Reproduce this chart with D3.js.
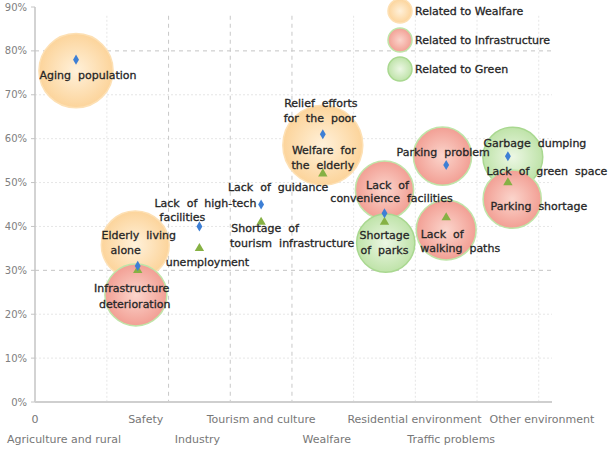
<!DOCTYPE html>
<html>
<head>
<meta charset="utf-8">
<script src="https://cdn.jsdelivr.net/npm/d3@7"></script>
<style>
  body { margin: 0; background: #fff; }
  text { font-family: 'DejaVu Sans', sans-serif; }
</style>
</head>
<body>
<div id="chart"></div>
<script>
// categories along the x axis (position 1..8)
const categories = ['Agriculture and rural', 'Safety', 'Industry', 'Tourism and culture',
  'Wealfare', 'Residential environment', 'Traffic problems', 'Other environment'];
const yTicks = [0, 10, 20, 30, 40, 50, 60, 70, 80, 90];

// blue diamonds and green triangles (percent)
const diamondValues = [78, 31, 40, 45, 61, 43, 54, 56];
const triangleValues = [null, 30, 35, 41, 52, 41, 42, 50];

// background bubbles
const bubbleX = [1, 1.96, 1.97, 5, 6, 6.02, 6.94, 7, 8.08, 8.07];
const bubbleY = [75.5, 35.8, 24.4, 58.5, 48.3, 36.2, 56, 39.2, 55.8, 46.2];
const bubbleSize = [86, 72, 60, 100, 53, 53, 53, 56, 56, 53];
const bubbleGroup = ['welfare', 'welfare', 'infra', 'welfare', 'infra', 'green',
  'infra', 'infra', 'green', 'infra'];

const groups = ['welfare', 'infra', 'green'];
const groupNames = ['Related to Wealfare', 'Related to Infrastructure', 'Related to Green'];

// label lines: [text, series, category index, dx, dy]
const labels = [
  ['Aging  population', 'd', 0, 12, 15],
  ['Elderly  living', 'd', 1, 1, -31],
  ['alone', 'd', 1, -12, -16],
  ['Infrastructure', 't', 1, -6, 18],
  ['deterioration', 't', 1, -3, 34],
  ['Lack  of  high-tech', 'd', 2, 6, -23],
  ['facilities', 'd', 2, -17, -9],
  ['unemployment', 't', 2, 8, 14],
  ['Lack  of  guidance', 'd', 3, 17, -17],
  ['Shortage  of', 't', 3, 4, 6],
  ['tourism  infrastructure', 't', 3, 31, 21],
  ['Relief  efforts', 'd', 4, -2, -31],
  ['for  the  poor', 'd', 4, -3, -16],
  ['Welfare  for', 't', 4, 1, -24],
  ['the  elderly', 't', 4, 0, -9],
  ['Lack  of', 'd', 5, 3, -28],
  ['convenience  facilities', 'd', 5, 7, -15],
  ['Shortage', 't', 5, 0, 13],
  ['of  parks', 't', 5, 0, 28],
  ['Parking  problem', 'd', 6, -3, -13],
  ['Lack  of', 't', 6, -4, 16],
  ['walking  paths', 't', 6, 14, 30],
  ['Garbage  dumping', 'd', 7, 27, -13],
  ['Lack  of  green  space', 't', 7, 39, -11],
  ['Parking  shortage', 't', 7, 31, 24],
];

// x-axis label shifts (px)
const catShift = [-12, 8, -2, 0, 4, 30, 5, 34];

const width = 610;
const height = 449;
const plot = { left: 35, right: 552, top: 7, bottom: 402 };

const svg = d3.select('#chart').append('svg')
  .attr('width', width)
  .attr('height', height);

const x = d3.scaleLinear().domain([0.335, 8.715]).range([plot.left, plot.right]);
const y = d3.scaleLinear().domain([0, 90]).range([plot.bottom, plot.top]);
const r = d3.scaleSqrt().domain([0, 100]).range([0, 40]);

const fills = {
  welfare: ['#fff1da', '#fcd49b'],
  infra: ['#fbd5cc', '#f29f94'],
  green: ['#ecf7e4', '#bfe3a9'],
};
const strokes = { welfare: '#fde0b4', infra: '#bfe5a8', green: '#a9d890' };

const defs = svg.append('defs');
groups.forEach((k) => {
  const grad = defs.append('radialGradient').attr('id', `grad-${k}`);
  grad.append('stop').attr('offset', '0%').attr('stop-color', fills[k][0]);
  grad.append('stop').attr('offset', '100%').attr('stop-color', fills[k][1]);
});

// grid
const grid = svg.append('g');
const vLines = d3.range(1.5, 9, 1);
grid.selectAll('.hgrid')
  .data(yTicks.filter(t => t > 0 && t < 90))
  .enter().append('line')
  .attr('x1', plot.left).attr('x2', plot.right)
  .attr('y1', d => y(d)).attr('y2', d => y(d))
  .attr('stroke', d => (d === 30 || d === 80) ? '#c4c4c4' : '#e6e6e6')
  .attr('stroke-dasharray', d => (d === 30 || d === 80) ? '4,4' : '2,2');
grid.selectAll('.vgrid')
  .data(vLines)
  .enter().append('line')
  .attr('x1', d => x(d)).attr('x2', d => x(d))
  .attr('y1', y(88)).attr('y2', plot.bottom)
  .attr('stroke', d => (d >= 2.5 && d <= 4.5) ? '#c8c8c8' : '#e6e6e6')
  .attr('stroke-dasharray', d => (d >= 2.5 && d <= 4.5) ? '4,4' : '2,2');

// bubbles
const bubbles = bubbleX.map((v, i) => ({
  x: v, y: bubbleY[i], size: bubbleSize[i], group: bubbleGroup[i],
}));
svg.append('g').selectAll('circle')
  .data(bubbles)
  .enter().append('circle')
  .attr('cx', d => x(d.x))
  .attr('cy', d => y(d.y))
  .attr('r', d => r(d.size))
  .attr('fill', d => `url(#grad-${d.group})`)
  .attr('stroke', d => strokes[d.group])
  .attr('stroke-width', 1.5);

// axes
svg.append('line')
  .attr('x1', plot.left).attr('x2', plot.left)
  .attr('y1', plot.top).attr('y2', plot.bottom)
  .attr('stroke', '#c4c4c4').attr('stroke-width', 1.5);
svg.append('line')
  .attr('x1', plot.left).attr('x2', plot.right)
  .attr('y1', plot.bottom).attr('y2', plot.bottom)
  .attr('stroke', '#cfcfcf').attr('stroke-width', 2);

const yAxis = svg.append('g');
yAxis.selectAll('line')
  .data(yTicks)
  .enter().append('line')
  .attr('x1', plot.left - 4).attr('x2', plot.left)
  .attr('y1', d => y(d)).attr('y2', d => y(d))
  .attr('stroke', '#c4c4c4');
yAxis.selectAll('text')
  .data(yTicks)
  .enter().append('text')
  .attr('x', plot.left - 8)
  .attr('y', d => y(d))
  .attr('dy', '0.35em')
  .attr('text-anchor', 'end')
  .attr('font-size', 10)
  .attr('fill', '#808080')
  .text(d => `${d}%`);

// x labels
svg.append('text')
  .attr('x', plot.left).attr('y', 419).attr('dy', '0.35em')
  .attr('text-anchor', 'middle')
  .attr('font-size', 11).attr('fill', '#777')
  .text('0');
svg.append('g').selectAll('text')
  .data(categories)
  .enter().append('text')
  .attr('x', (d, i) => x(i + 1) + catShift[i])
  .attr('y', (d, i) => (i % 2 === 0 ? 439 : 419))
  .attr('dy', '0.35em')
  .attr('text-anchor', 'middle')
  .attr('font-size', 11)
  .attr('fill', '#777')
  .text(d => d);

// markers
svg.append('g').selectAll('path')
  .data(triangleValues.map((v, i) => ({ v, i })).filter(d => d.v !== null))
  .enter().append('path')
  .attr('d', d3.symbol(d3.symbolTriangle, 38))
  .attr('transform', d => `translate(${x(d.i + 1)},${y(d.v)})`)
  .attr('fill', '#86b144');
svg.append('g').selectAll('path')
  .data(diamondValues.map((v, i) => ({ v, i })))
  .enter().append('path')
  .attr('d', d3.symbol(d3.symbolDiamond, 30))
  .attr('transform', d => `translate(${x(d.i + 1)},${y(d.v)})`)
  .attr('fill', '#3d7fd5');

// labels
svg.append('g').selectAll('text')
  .data(labels)
  .enter().append('text')
  .attr('x', d => x(d[2] + 1) + d[3])
  .attr('y', d => y(d[1] === 'd' ? diamondValues[d[2]] : triangleValues[d[2]]) + d[4])
  .attr('dy', '0.35em')
  .attr('text-anchor', 'middle')
  .attr('font-size', 11)
  .attr('fill', '#262626')
  .attr('stroke', '#262626')
  .attr('stroke-width', 0.3)
  .style('white-space', 'pre')
  .text(d => d[0]);

// legend
const legend = svg.append('g').selectAll('g')
  .data(groups)
  .enter().append('g')
  .attr('transform', (d, i) => `translate(400,${11 + i * 29})`);
legend.append('circle')
  .attr('r', 12)
  .attr('fill', d => `url(#grad-${d})`)
  .attr('stroke', d => strokes[d])
  .attr('stroke-width', 1.5);
legend.append('text')
  .attr('x', 15)
  .attr('dy', '0.35em')
  .attr('font-size', 11)
  .attr('fill', '#262626')
  .attr('stroke', '#262626')
  .attr('stroke-width', 0.3)
  .text((d, i) => groupNames[i]);
</script>
</body>
</html>
